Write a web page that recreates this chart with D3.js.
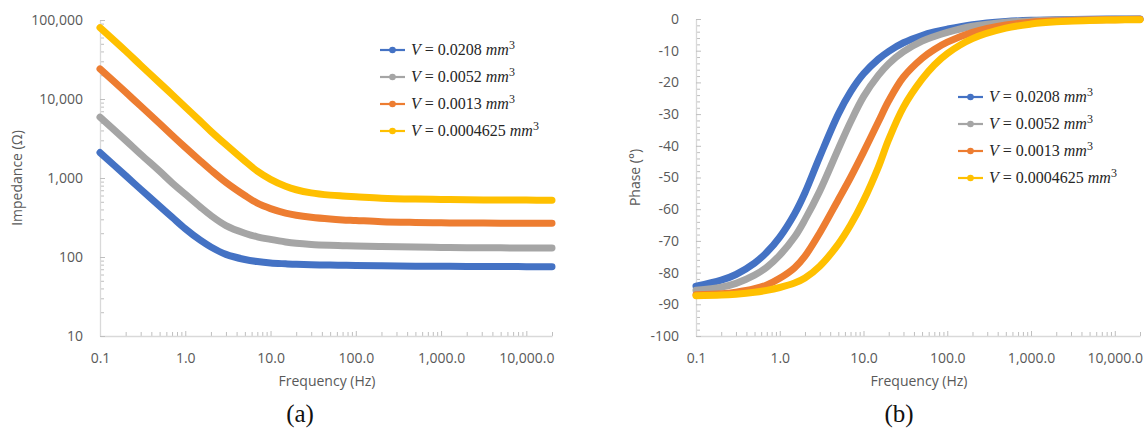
<!DOCTYPE html>
<html>
<head>
<meta charset="utf-8">
<script src="https://cdn.jsdelivr.net/npm/d3@7/dist/d3.min.js"></script>
<style>
  html, body { margin: 0; padding: 0; background: #ffffff; }
  svg { display: block; }
  .tick text { font-family: "Open Sans", sans-serif; font-size: 14px; fill: #595959; }
  .axis-title { font-family: "Open Sans", sans-serif; font-size: 14px; fill: #595959; }
  .legend text { font-family: "Liberation Serif", serif; font-size: 16px; fill: #262626; }
  .caption { font-family: "Liberation Serif", serif; font-size: 25px; fill: #111; }
</style>
</head>
<body>
<svg id="chart" width="1148" height="432"></svg>
<script>
// Measurement frequencies (Hz)
const freq = [0.1, 0.2, 0.3, 0.5, 0.7, 1, 1.5, 2, 3, 5, 7, 10, 15, 20, 30, 50, 70, 100, 200, 500, 1000, 2000, 5000, 10000, 20000];

// Impedance magnitude (ohm) per electrode volume
const zV0208 = [2100, 1070, 720, 440, 320, 228, 163, 134, 108, 93, 87.5, 84, 82, 80.8, 79.8, 79, 78.5, 78, 77.3, 76.6, 76.2, 76, 75.7, 75.5, 75.5];
const zV0052 = [5900, 3000, 2000, 1220, 870, 625, 430, 335, 250, 200, 180, 167, 155, 149, 144, 140.5, 139, 138, 135.5, 133.5, 132, 131, 130.5, 130, 130];
const zV0013 = [24000, 12200, 8150, 4900, 3480, 2440, 1650, 1260, 880, 600, 480, 410, 360, 338, 318, 302, 295, 290, 280, 274, 271, 269, 268, 267, 267];
const zV0004625 = [80000, 40500, 26800, 16000, 11400, 7900, 5250, 3900, 2640, 1640, 1220, 960, 785, 710, 648, 607, 592, 580, 556, 541, 535, 530, 527, 525, 524];

// Phase angle (degrees) per electrode volume
const pV0208 = [-84.3, -82.4, -80.6, -77.0, -73.6, -68.8, -61.5, -54.8, -43.5, -30.0, -23.0, -17.3, -12.7, -10.2, -7.5, -5.2, -4.1, -3.2, -1.8, -0.8, -0.4, -0.2, -0.1, 0, 0];
const pV0052 = [-85.6, -84.6, -83.4, -80.8, -78.3, -74.5, -68.8, -63.3, -54.3, -41.0, -32.5, -24.5, -17.8, -14.1, -10.3, -7.0, -5.5, -4.2, -2.3, -1.0, -0.6, -0.3, -0.2, -0.1, -0.1];
const pV0013 = [-87.0, -86.7, -86.2, -85.1, -83.9, -81.8, -78.5, -74.8, -67.5, -57.0, -50.0, -42.0, -32.5, -25.8, -18.3, -12.4, -9.6, -7.3, -4.2, -1.9, -1.0, -0.6, -0.3, -0.2, -0.1];
const pV0004625 = [-87.3, -87.1, -86.8, -86.2, -85.6, -84.7, -83.3, -81.7, -78.0, -71.0, -65.0, -57.3, -46.8, -38.0, -27.8, -19.0, -14.5, -10.9, -6.2, -2.9, -1.6, -0.9, -0.5, -0.3, -0.2];

// Legend volumes (mm^3) and series colours
const volumes = ["0.0208", "0.0052", "0.0013", "0.0004625"];
const colors = ["#4472C4", "#A5A5A5", "#ED7D31", "#FFC000"];

// Axis ticks
const freqTicks = [0.1, 1, 10, 100, 1000, 10000];
const freqTickLabels = ["0.1", "1.0", "10.0", "100.0", "1,000.0", "10,000.0"];
const zTicks = [10, 100, 1000, 10000, 100000];
const zTickLabels = ["10", "100", "1,000", "10,000", "100,000"];
const phaseTicks = [-100, -90, -80, -70, -60, -50, -40, -30, -20, -10, 0];
const phaseTickLabels = ["-100", "-90", "-80", "-70", "-60", "-50", "-40", "-30", "-20", "-10", "0"];

const impedanceSeries = [zV0208, zV0052, zV0013, zV0004625];
const phaseSeries = [pV0208, pV0052, pV0013, pV0004625];

const svg = d3.select("#chart");
const AXIS = "#d9d9d9";
const TICK = "#bfbfbf";

// log-axis minor tick values (2..9 per decade)
function logMinor(lo, hi) {
  const out = [];
  for (let e = Math.floor(Math.log10(lo)); e <= Math.ceil(Math.log10(hi)); e++) {
    for (let m = 2; m <= 9; m++) {
      const v = m * Math.pow(10, e);
      if (v > lo && v <= hi * 1.0001) out.push(v);
    }
  }
  return out;
}

function styleAxis(g) {
  g.select(".domain").attr("stroke", AXIS).attr("stroke-width", 1.3);
  g.selectAll(".tick line").attr("stroke", TICK).attr("stroke-width", 1);
}

function drawPanel(opts) {
  const { x, y, series, yTicks, yTickLabels, yMinor, yTitle, yTitleX, caption, captionX, legendX, legendY } = opts;
  const g = svg.append("g");
  const [x0, x1] = x.range();
  const [yb, yt] = y.range();

  // minor ticks
  g.append("g").attr("transform", `translate(0,${yb})`)
    .call(d3.axisBottom(x).tickValues(logMinor(0.1, 20000)).tickSize(-4).tickFormat(""))
    .call(styleAxis).call(a => a.select(".domain").remove());
  g.append("g").attr("transform", `translate(${x0},0)`)
    .call(d3.axisLeft(y).tickValues(yMinor).tickSize(-4).tickFormat(""))
    .call(styleAxis).call(a => a.select(".domain").remove());

  // major axes
  g.append("g").attr("transform", `translate(0,${yb})`)
    .call(d3.axisBottom(x).tickValues(freqTicks).tickSizeInner(-5).tickSizeOuter(0).tickPadding(17)
      .tickFormat((d, i) => freqTickLabels[i]))
    .call(styleAxis);
  g.append("g").attr("transform", `translate(${x0},0)`)
    .call(d3.axisLeft(y).tickValues(yTicks).tickSizeInner(-5).tickSizeOuter(0).tickPadding(17)
      .tickFormat((d, i) => yTickLabels[i]))
    .call(styleAxis);

  // titles
  g.append("text").attr("class", "axis-title")
    .attr("transform", `translate(${yTitleX},${(yb + yt) / 2}) rotate(-90)`)
    .attr("text-anchor", "middle").attr("dy", "0.35em").text(yTitle);
  g.append("text").attr("class", "axis-title")
    .attr("x", (x0 + x1) / 2 + 1).attr("y", 386)
    .attr("text-anchor", "middle").text("Frequency (Hz)");
  g.append("text").attr("class", "caption")
    .attr("x", captionX).attr("y", 422)
    .attr("text-anchor", "middle").text(caption);

  // series
  const line = d3.line()
    .x((d, i) => x(freq[i]))
    .y(d => y(d))
    .curve(d3.curveCatmullRom.alpha(0.5));
  series.forEach((s, k) => {
    g.append("path").datum(s)
      .attr("d", line)
      .attr("fill", "none")
      .attr("stroke", colors[k])
      .attr("stroke-width", 7)
      .attr("stroke-linecap", "round")
      .attr("stroke-linejoin", "round");
  });

  // legend
  const lg = g.append("g").attr("class", "legend");
  volumes.forEach((v, k) => {
    const row = lg.append("g").attr("transform", `translate(${legendX},${legendY + k * 27})`);
    row.append("line").attr("x1", 0).attr("x2", 25).attr("y1", 0).attr("y2", 0)
      .attr("stroke", colors[k]).attr("stroke-width", 2.2);
    row.append("circle").attr("cx", 12.5).attr("cy", 0).attr("r", 3.3).attr("fill", colors[k]);
    const t = row.append("text").attr("x", 31).attr("y", 0).attr("dy", "0.3em");
    t.append("tspan").attr("font-style", "italic").text("V");
    t.append("tspan").text(" = " + v + " ");
    t.append("tspan").attr("font-style", "italic").text("mm");
    t.append("tspan").attr("font-size", "12px").attr("dy", "-0.45em").text("3");
  });
}

// (a) impedance magnitude
drawPanel({
  x: d3.scaleLog().domain([0.1, 20000]).range([100, 552]),
  y: d3.scaleLog().domain([10, 100000]).range([336, 20]),
  series: impedanceSeries,
  yTicks: zTicks, yTickLabels: zTickLabels,
  yMinor: logMinor(10, 100000),
  yTitle: "Impedance (\u03A9)", yTitleX: 17,
  caption: "(a)", captionX: 300,
  legendX: 380, legendY: 50
});

// (b) phase angle
drawPanel({
  x: d3.scaleLog().domain([0.1, 20000]).range([696, 1140]),
  y: d3.scaleLinear().domain([-100, 0]).range([336, 19]),
  series: phaseSeries,
  yTicks: phaseTicks, yTickLabels: phaseTickLabels,
  yMinor: d3.range(-98, 0, 2).filter(v => v % 10 !== 0),
  yTitle: "Phase (\u00B0)", yTitleX: 635,
  caption: "(b)", captionX: 899,
  legendX: 958, legendY: 97
});
</script>
</body>
</html>
